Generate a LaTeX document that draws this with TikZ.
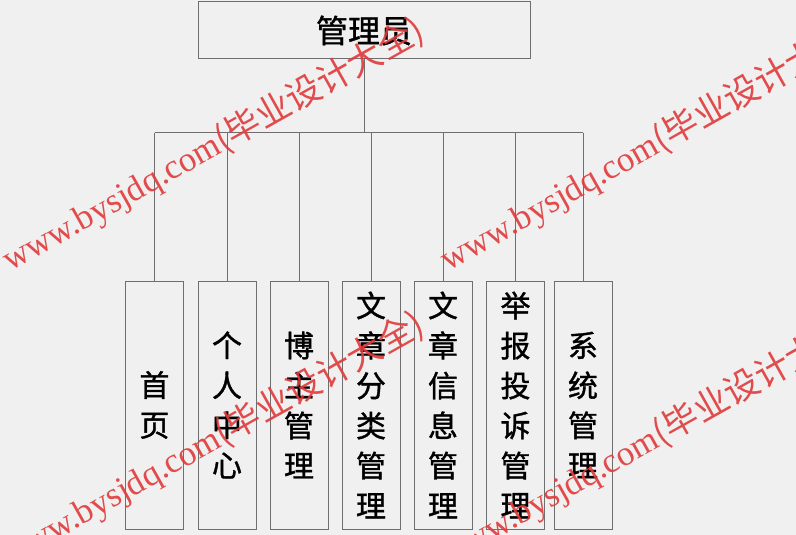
\documentclass[tikz,border=0pt]{standalone}
\usepackage{fontspec}
\usepackage{graphicx}
\newfontfamily\cjk{Noto Sans CJK SC}
\newfontfamily\cjkb{Noto Sans CJK SC}[FakeBold=1.2]
\newfontfamily\wmlat{Liberation Serif}
\definecolor{bgc}{HTML}{F0F0F0}
\definecolor{linec}{HTML}{6E6E6E}
\definecolor{wmred}{HTML}{E03A3A}
\tikzset{
  topbox/.style={draw=linec, line width=1pt, fill=bgc, minimum width=332pt, minimum height=57pt, inner sep=0pt, font=\cjkb\fontsize{32}{36}\selectfont},
  subbox/.style={draw=linec, line width=1pt, fill=bgc, minimum width=58pt, minimum height=248pt, inner sep=0pt, align=center, font=\cjkb\fontsize{30}{40}\selectfont},
  conn/.style={draw=linec, line width=1pt},
  wmark/.style={anchor=base west, rotate=29.3, inner sep=0pt, text=wmred, opacity=0.9}
}
\newcommand{\wmtext}{\resizebox{478pt}{!}{\wmlat\fontsize{36}{40}\selectfont www.bysjdq.com\cjk(毕业设计大全)}}
\begin{document}
\begin{tikzpicture}[x=1pt,y=-1pt]
\useasboundingbox (0,0) rectangle (796,535);
\fill[bgc] (0,0) rectangle (796,535);
\clip (0,0) rectangle (796,535);
\node[topbox] (top) at (364,30.5) {管理员};
\node[subbox] (b1) at (154.5,405) {首\\页};
\node[subbox] (b2) at (227,405) {个\\人\\中\\心};
\node[subbox] (b3) at (299,405) {博\\主\\管\\理};
\node[subbox] (b4) at (371,405) {文\\章\\分\\类\\管\\理};
\node[subbox] (b5) at (443,405) {文\\章\\信\\息\\管\\理};
\node[subbox] (b6) at (515.5,405) {举\\报\\投\\诉\\管\\理};
\node[subbox] (b7) at (583,405) {系\\统\\管\\理};
\coordinate (bus) at (364,132.5);
\draw[conn] (top.south) -- (bus);
\draw[conn] (b1.north |- bus) -- (b7.north |- bus);
\foreach \i in {1,...,7} { \draw[conn] (b\i.north |- bus) -- (b\i.north); }
\node[wmark] (wmA) at (10,272) {\wmtext};
\node[wmark] (wmB) at (448,272) {\wmtext};
\node[wmark] (wmD) at (10,566) {\wmtext};
\node[wmark] (wmC) at (448,566) {\wmtext};
\end{tikzpicture}
\end{document}
